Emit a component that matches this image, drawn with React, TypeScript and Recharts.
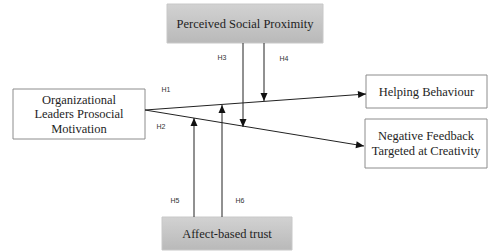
import { ComposedChart, ReferenceArea, Scatter, XAxis, YAxis } from 'recharts'

// 研究模型图:用无隐藏坐标轴的 ComposedChart 画框、箭头和假设标签。坐标单位 = 像素。
const W = 488
const H = 252

const nodes = [
  { id: 'psp', lines: ['Perceived Social Proximity'], x1: 167, x2: 323, y1: 4, y2: 43, grey: true },
  { id: 'olpm', lines: ['Organizational', 'Leaders Prosocial', 'Motivation'], x1: 13, x2: 145, y1: 89, y2: 139, grey: false },
  { id: 'hb', lines: ['Helping Behaviour'], x1: 366, x2: 487, y1: 75, y2: 108, grey: false },
  { id: 'nf', lines: ['Negative Feedback', 'Targeted at Creativity'], x1: 365, x2: 487, y1: 119, y2: 168, grey: false },
  { id: 'abt', lines: ['Affect-based trust'], x1: 162, x2: 292, y1: 217, y2: 250, grey: true },
]

const edges = [
  { id: 'h1', from: { x: 145, y: 110 }, to: { x: 366, y: 94 } },
  { id: 'h2', from: { x: 145, y: 110 }, to: { x: 364, y: 146 } },
  { id: 'h3', from: { x: 243, y: 43 }, to: { x: 243, y: 127 } },
  { id: 'h4', from: { x: 264, y: 43 }, to: { x: 264, y: 101 } },
  { id: 'h5', from: { x: 194, y: 217 }, to: { x: 194, y: 118 } },
  { id: 'h6', from: { x: 222, y: 217 }, to: { x: 222, y: 105 } },
]

const hypotheses = [
  { name: 'H1', x: 166, y: 89 },
  { name: 'H2', x: 161, y: 126 },
  { name: 'H3', x: 222, y: 57 },
  { name: 'H4', x: 284, y: 58 },
  { name: 'H5', x: 175, y: 200 },
  { name: 'H6', x: 240, y: 200 },
]

// 框内文字用 Scatter 的自定义 shape 画在框中心
const boxCentres = nodes.map((n) => ({ x: (n.x1 + n.x2) / 2, y: (n.y1 + n.y2) / 2, lines: n.lines }))

function BoxText(props: any) {
  const { cx, cy, payload } = props
  const lh = 14.5
  const top = cy - ((payload.lines.length - 1) * lh) / 2
  return (
    <text
      x={cx}
      y={top}
      textAnchor="middle"
      dominantBaseline="central"
      fontFamily="Liberation Serif"
      fontSize={12.5}
      fill="#1e1e1e"
    >
      {payload.lines.map((l: string, i: number) => (
        <tspan key={l} x={cx} dy={i === 0 ? 0 : lh}>
          {l}
        </tspan>
      ))}
    </text>
  )
}

function ArrowHead(props: any) {
  const { cx, cy, payload, from } = props
  if (!payload?.head) return <g />
  const a = Math.atan2(payload.y - from.y, payload.x - from.x)
  const len = 8
  const half = 3.5
  const bx = cx - len * Math.cos(a)
  const by = cy - len * Math.sin(a)
  const px = -Math.sin(a) * half
  const py = Math.cos(a) * half
  return <path d={`M${cx},${cy}L${bx + px},${by + py}L${bx - px},${by - py}Z`} fill="#111" />
}

function HypText(props: any) {
  const { cx, cy, payload } = props
  return (
    <text x={cx} y={cy} textAnchor="middle" dominantBaseline="central" fontFamily="Liberation Sans" fontSize={7} fill="#333">
      {payload.name}
    </text>
  )
}

export default function App() {
  return (
    <div style={{ position: 'absolute', left: 0, top: 0, width: W, height: H, background: '#fff' }}>
      <ComposedChart width={W} height={H} margin={{ top: 0, right: 0, bottom: 0, left: 0 }}>
        <defs>
          <linearGradient id="greyBox" x1="0" y1="0" x2="0" y2="1">
            <stop offset="0%" stopColor="#d2d2d2" />
            <stop offset="100%" stopColor="#b9b9b9" />
          </linearGradient>
        </defs>
        <XAxis type="number" dataKey="x" domain={[0, W]} hide allowDataOverflow />
        <YAxis type="number" dataKey="y" domain={[0, H]} reversed hide allowDataOverflow />
        {nodes.map((n) => (
          <ReferenceArea
            key={n.id}
            x1={n.x1}
            x2={n.x2}
            y1={n.y1}
            y2={n.y2}
            fill={n.grey ? 'url(#greyBox)' : '#fff'}
            fillOpacity={1}
            stroke={n.grey ? '#c8c8c8' : '#8c8c8c'}
            strokeWidth={1}
            ifOverflow="visible"
          />
        ))}
        {edges.map((e) => (
          <Scatter
            key={e.id}
            data={[
              { x: e.from.x, y: e.from.y, head: false },
              { x: e.to.x, y: e.to.y, head: true },
            ]}
            line={{ stroke: '#222', strokeWidth: 1 }}
            shape={<ArrowHead from={e.from} />}
            isAnimationActive={false}
            legendType="none"
          />
        ))}
        <Scatter data={boxCentres} shape={<BoxText />} isAnimationActive={false} legendType="none" />
        <Scatter data={hypotheses} shape={<HypText />} isAnimationActive={false} legendType="none" />
      </ComposedChart>
    </div>
  )
}
